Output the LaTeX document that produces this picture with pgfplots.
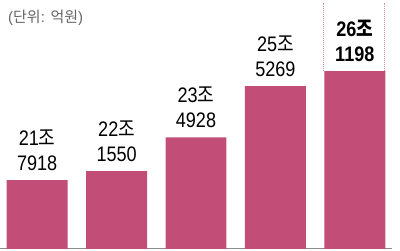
\documentclass[border=0pt]{standalone}
\usepackage{fontspec}
\setmainfont{Liberation Sans}[FakeStretch=0.86]
\newfontfamily\kr{Noto Sans CJK KR}[FakeStretch=0.86]
\newfontfamily\krt{Noto Sans CJK KR}
\newfontfamily\lt{Liberation Sans}
\usepackage{pgfplots}
\pgfplotsset{compat=1.18}
\definecolor{barpink}{HTML}{C24E77}
\definecolor{dotpink}{HTML}{D98AA6}
\begin{document}
\begin{tikzpicture}[x=1pt,y=1pt]
\path[use as bounding box] (0,0) rectangle (400,250);
\begin{axis}[
  at={(0,4)}, anchor=south west,
  scale only axis, width=392pt, height=246pt,
  xmin=-0.4685, xmax=4.4685,
  ymin=190650, ymax=288230,
  axis x line*=bottom, axis y line=none,
  axis line style={-, draw=black!45, line width=1pt},
  xtick=\empty, ytick=\empty,
  ybar, bar width=0.768,
  point meta=explicit symbolic,
  nodes near coords,
  every node near coord/.append style={anchor=south, inner sep=0pt, yshift=9pt,
     align=center, font=\fontsize{21}{25}\selectfont, text=black},
]
\addplot[fill=barpink, draw=none] coordinates {
  (0,217918) [{21{\kr 조}\\7918}]
  (1,221550) [{22{\kr 조}\\1550}]
  (2,234928) [{23{\kr 조}\\4928}]
  (3,255269) [{25{\kr 조}\\5269}]
  (4,261198) [{\bfseries 26{\kr\bfseries 조}\\\bfseries 1198}]
};
\draw[dotpink, densely dotted, line width=1pt] (axis cs:3.605,261198) -- (axis cs:3.605,288230);
\draw[dotpink, densely dotted, line width=1pt] (axis cs:4.38,261198) -- (axis cs:4.38,288230);
\end{axis}
\node[anchor=base west, inner sep=0pt, text=black!60, font=\fontsize{15}{18}\selectfont] at (8,228) {{\lt(}{\krt 단위}{\lt: }{\krt 억원}{\lt)}};
\end{tikzpicture}
\end{document}
